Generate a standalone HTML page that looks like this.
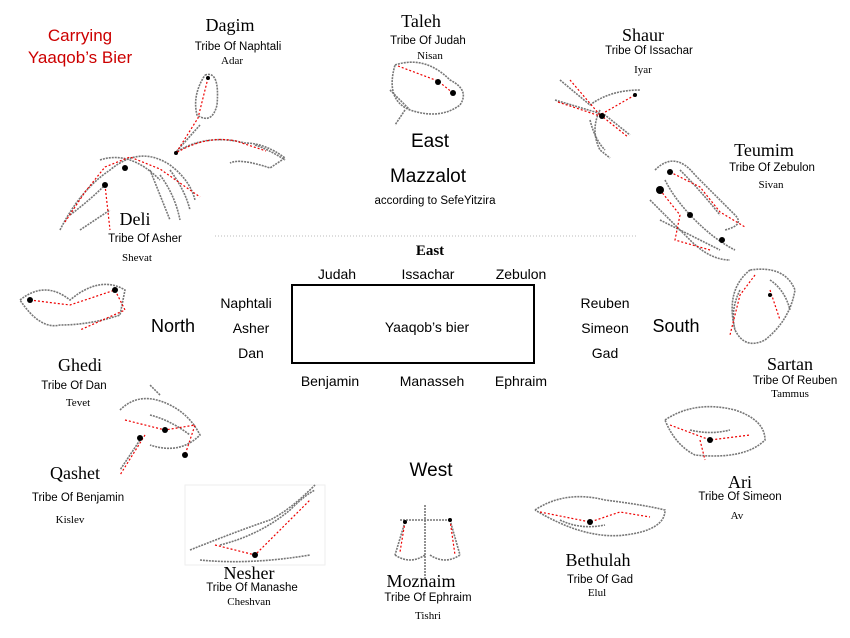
<!DOCTYPE html>
<html><head><meta charset="utf-8"><style>
body{margin:0;background:#fff}
svg{display:block}
.s{font-family:"Liberation Serif",serif;fill:#000}
.a{font-family:"Liberation Sans",sans-serif;fill:#000}
.g{fill:none;stroke:#777;stroke-width:1.6;stroke-dasharray:2 1}
.r{fill:none;stroke:#e00;stroke-width:1.2;stroke-dasharray:2 2}
</style></head><body>
<svg width="850" height="638" viewBox="0 0 850 638" xmlns="http://www.w3.org/2000/svg">
<g text-anchor="middle">
<text class="a" x="80" y="41" font-size="17" style="fill:#c00">Carrying</text>
<text class="a" x="80" y="63" font-size="17" style="fill:#c00">Yaaqob’s Bier</text>

<text class="s" x="230" y="31" font-size="18">Dagim</text>
<text class="a" x="238" y="50" font-size="11.5">Tribe Of Naphtali</text>
<text class="s" x="232" y="64" font-size="11">Adar</text>

<text class="s" x="421" y="27" font-size="18">Taleh</text>
<text class="a" x="428" y="44" font-size="11.5">Tribe Of Judah</text>
<text class="s" x="430" y="59" font-size="11">Nisan</text>

<text class="s" x="643" y="41" font-size="18">Shaur</text>
<text class="a" x="649" y="54" font-size="11.5">Tribe Of Issachar</text>
<text class="s" x="643" y="73" font-size="11">Iyar</text>

<text class="s" x="764" y="156" font-size="18">Teumim</text>
<text class="a" x="772" y="171" font-size="11.5">Tribe Of Zebulon</text>
<text class="s" x="771" y="188" font-size="11">Sivan</text>

<text class="s" x="135" y="225" font-size="18">Deli</text>
<text class="a" x="145" y="242" font-size="11.5">Tribe Of Asher</text>
<text class="s" x="137" y="261" font-size="11">Shevat</text>

<text class="a" x="430" y="147" font-size="19">East</text>
<text class="a" x="428" y="182" font-size="19">Mazzalot</text>
<text class="a" x="435" y="204" font-size="11.5">according to SefeYitzira</text>

<text class="s" x="80" y="371" font-size="18">Ghedi</text>
<text class="a" x="74" y="389" font-size="11.5">Tribe Of Dan</text>
<text class="s" x="78" y="406" font-size="11">Tevet</text>

<text class="s" x="790" y="370" font-size="18">Sartan</text>
<text class="a" x="795" y="384" font-size="11.5">Tribe Of Reuben</text>
<text class="s" x="790" y="397" font-size="11">Tammus</text>

<text class="s" x="75" y="479" font-size="18">Qashet</text>
<text class="a" x="78" y="501" font-size="11.5">Tribe Of Benjamin</text>
<text class="s" x="70" y="523" font-size="11">Kislev</text>

<text class="s" x="740" y="488" font-size="18">Ari</text>
<text class="a" x="740" y="500" font-size="11.5">Tribe Of Simeon</text>
<text class="s" x="737" y="519" font-size="11">Av</text>

<text class="a" x="431" y="476" font-size="19">West</text>

<text class="s" x="598" y="566" font-size="18">Bethulah</text>
<text class="a" x="600" y="583" font-size="11.5">Tribe Of Gad</text>
<text class="s" x="597" y="596" font-size="11">Elul</text>

<text class="s" x="249" y="579" font-size="18">Nesher</text>
<text class="a" x="252" y="591" font-size="11.5">Tribe Of Manashe</text>
<text class="s" x="249" y="605" font-size="11">Cheshvan</text>

<text class="s" x="421" y="587" font-size="18">Moznaim</text>
<text class="a" x="428" y="601" font-size="11.5">Tribe Of Ephraim</text>
<text class="s" x="428" y="619" font-size="11">Tishri</text>

<text class="s" x="430" y="255" font-size="15" font-weight="bold">East</text>
<g class="a" font-size="14" fill="#222">
<text x="337" y="279">Judah</text><text x="428" y="279">Issachar</text><text x="521" y="279">Zebulon</text>
<text x="246" y="308">Naphtali</text><text x="251" y="333">Asher</text><text x="251" y="358">Dan</text>
<text x="605" y="308">Reuben</text><text x="605" y="333">Simeon</text><text x="605" y="358">Gad</text>
<text x="330" y="386">Benjamin</text><text x="432" y="386">Manasseh</text><text x="521" y="386">Ephraim</text>
<text x="427" y="332">Yaaqob’s bier</text>
</g>
<text class="a" x="173" y="332" font-size="18">North</text>
<text class="a" x="676" y="332" font-size="18">South</text>
</g>
<rect x="292" y="285" width="242" height="78" fill="none" stroke="#000" stroke-width="2"/>
<line x1="215" y1="236" x2="637" y2="236" stroke="#bbb" stroke-dasharray="1 2"/>

<g>
<path class="g" d="M205 75 q15 -5 12 30 q-5 20 -20 10 q-5 -20 8 -40 M175 153 q30 -20 70 -10 q20 0 40 15 l-15 10 q-30 -10 -40 -5 M200 125 l-25 28 M255 145 q15 5 30 15"/>
<path class="r" d="M208 78 l-10 40 l-22 35 q30 -18 60 -12 l30 10"/>
<path class="g" d="M60 230 q20 -40 50 -60 q30 -25 60 -5 q20 15 25 35 M100 160 q30 -10 60 20 M80 230 q15 -10 30 -20 M150 170 l20 50 M160 175 q15 20 20 45 M170 170 q15 20 20 40 M70 215 q20 -15 35 -30"/>
<path class="r" d="M65 222 l20 -30 l20 -25 l25 -10 l30 12 l40 28 M105 185 l5 45"/>
<path class="g" d="M395 65 q30 -10 55 15 q20 10 10 25 q-20 15 -50 5 q-25 -10 -15 -45 M405 110 l-10 15 M390 90 q10 10 20 20"/>
<path class="r" d="M398 66 l40 15 l15 12"/>
<path class="g" d="M560 80 l30 25 q20 -15 50 -15 M555 100 l50 15 l25 20 M600 110 q-10 20 0 40 l10 8 M590 120 q5 20 15 30"/>
<path class="r" d="M570 80 l30 35 l35 -20 M558 102 l45 15 l25 20"/>
<path class="g" d="M655 170 q20 -20 40 5 l40 40 q10 10 -10 15 M650 200 q20 20 40 40 q20 20 40 20 M660 220 q20 10 60 30 M665 180 q10 20 30 40 q20 20 40 30 M680 170 q20 20 40 45"/>
<path class="r" d="M670 172 l30 15 l20 25 l25 15 M660 190 l20 25 l-5 25 l35 10"/>
<path class="g" d="M750 270 q-25 20 -15 60 q10 20 30 10 q25 -20 30 -50 q-10 -25 -45 -20 M740 290 q-10 20 -5 40 M770 280 q15 10 20 30"/>
<path class="r" d="M755 275 l-15 20 l-10 40 M770 290 l10 30"/>
<path class="g" d="M20 300 q25 -20 50 0 q30 -25 55 -10 l-5 25 q-30 10 -60 10 q-20 5 -40 -25"/>
<path class="r" d="M30 300 l40 5 l45 -15 l10 20 l-45 20"/>
<path class="g" d="M120 410 q20 -20 50 -5 q20 10 30 30 q-20 20 -50 10 M140 440 l-20 30 M160 395 l-10 -10 M150 415 q20 5 40 20"/>
<path class="r" d="M125 420 l40 10 l30 -5 l-10 30 M145 435 l-25 40"/>
<path class="g" d="M665 420 q30 -20 70 -10 q30 10 30 30 q-20 20 -70 15 q-20 -10 -30 -35 M690 430 q20 5 40 0"/>
<path class="r" d="M670 425 l40 15 l40 -5 M700 440 l5 20"/>
<path class="g" d="M535 510 q30 -20 70 -10 q40 5 60 10 q0 20 -40 25 q-40 5 -90 -25 M560 520 q20 10 45 5"/>
<path class="r" d="M540 512 l50 10 l30 -10 l30 5"/>
<rect x="185" y="485" width="140" height="80" fill="none" stroke="#eee"/>
<path class="g" d="M190 550 q50 -20 80 -30 q20 -10 45 -35 M200 560 q50 5 110 -5 M220 545 q40 -10 70 -35 q15 -15 25 -20"/>
<path class="r" d="M215 545 l40 10 l30 -30 l25 -25"/>
<path class="g" d="M400 520 h50 M425 505 v75 M395 555 q15 10 30 0 M430 555 q15 10 30 0 M405 522 l-10 33 M450 520 l10 35"/>
<path class="r" d="M405 522 l-5 30 M450 520 l5 35"/>
</g>
<g fill="#000">
<circle cx="208" cy="78" r="2"/><circle cx="176" cy="153" r="2"/><circle cx="105" cy="185" r="3"/><circle cx="125" cy="168" r="3"/>
<circle cx="438" cy="82" r="3"/><circle cx="453" cy="93" r="3"/><circle cx="602" cy="116" r="3"/><circle cx="635" cy="95" r="2"/>
<circle cx="670" cy="172" r="3"/><circle cx="660" cy="190" r="4"/><circle cx="690" cy="215" r="3"/><circle cx="722" cy="240" r="3"/>
<circle cx="30" cy="300" r="3"/><circle cx="115" cy="290" r="3"/><circle cx="165" cy="430" r="3"/><circle cx="140" cy="438" r="3"/>
<circle cx="770" cy="295" r="2"/><circle cx="710" cy="440" r="3"/><circle cx="590" cy="522" r="3"/><circle cx="255" cy="555" r="3"/>
<circle cx="185" cy="455" r="3"/><circle cx="405" cy="522" r="2"/><circle cx="450" cy="520" r="2"/>
</g>
</svg>
</body></html>
